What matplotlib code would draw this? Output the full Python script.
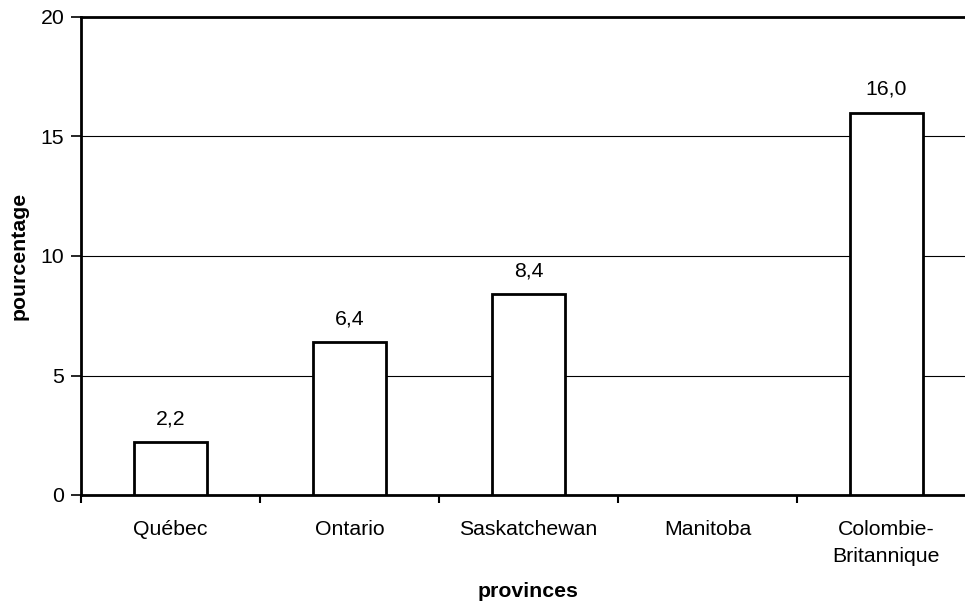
import numpy as np
import matplotlib.pyplot as plt

# ---------------------------------------------------------------
# Data
# ---------------------------------------------------------------
provinces = ['Québec', 'Ontario', 'Saskatchewan', 'Manitoba', 'Colombie-\nBritannique']
values = [2.2, 6.4, 8.4, np.nan, 16.0]
labels = ['2,2', '6,4', '8,4', '', '16,0']
y_ticks = [0, 5, 10, 15, 20]

plt.rcParams['font.family'] = ['Liberation Sans', 'DejaVu Sans']
FS = 15.3

# ---------------------------------------------------------------
# Plot
# ---------------------------------------------------------------
fig = plt.figure(figsize=(9.65, 6.06), dpi=100)
# axes runs past the right edge of the picture, like the original
ax = fig.add_axes([81 / 965, 1 - 495 / 606, 895 / 965, 478 / 606])

x = np.arange(len(provinces))
for xi, v, lab in zip(x, values, labels):
    if np.isnan(v):
        continue
    ax.bar(xi, v, width=0.41, color='white', edgecolor='black', linewidth=2, zorder=3)
    ax.text(xi, v + 0.58, lab, ha='center', va='bottom', fontsize=FS)

ax.set_xlim(-0.5, len(provinces) - 0.5)
ax.set_ylim(0, 20)
ax.set_yticks(y_ticks)
ax.yaxis.grid(True, color='black', linewidth=0.8, zorder=0)

ax.set_xticks(x)
ax.set_xticklabels(provinces, fontsize=FS, linespacing=1.5)
ax.set_xticks(np.arange(len(provinces) + 1) - 0.5, minor=True)
ax.tick_params(axis='x', which='major', length=0, pad=18)
ax.tick_params(axis='x', which='minor', length=6, width=1.5, direction='out')
ax.tick_params(axis='y', labelsize=FS, length=7, width=1.2, direction='out', pad=5)

for side in ['left', 'top', 'bottom']:
    ax.spines[side].set_linewidth(2)
ax.spines['right'].set_visible(False)

ax.set_ylabel('pourcentage', fontsize=FS, fontweight='bold', labelpad=9)
ax.set_xlabel('provinces', fontsize=FS, fontweight='bold', labelpad=12)

fig.savefig('out.png', dpi=100)
